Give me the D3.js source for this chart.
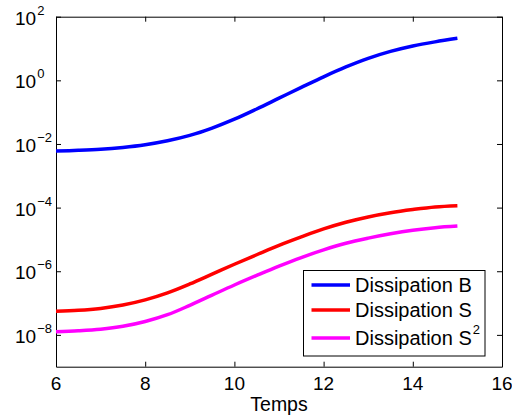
<!DOCTYPE html>
<html><head><meta charset="utf-8">
<script src="https://cdn.jsdelivr.net/npm/d3@7"></script>
<style>body{margin:0;background:#fff}svg{display:block}text{font-family:"Liberation Sans",Arial,Helvetica,sans-serif;fill:#000}</style>
</head><body><svg id="c" width="512" height="419"></svg>
<script>
const temps = [6,6.5,7,7.5,8,8.5,9,9.5,10,10.5,11,11.5,12,12.5,13,13.5,14,14.5,15];
const dissB = [6.0e-3,6.3e-3,6.8e-3,7.8e-3,9.5e-3,1.26e-2,1.86e-2,3.16e-2,6.0e-2,0.126,0.275,0.60,1.29,2.63,4.9,8.1,12.0,16.2,20.9];
const dissS = [5.5e-8,5.9e-8,6.8e-8,8.7e-8,1.26e-7,2.09e-7,3.98e-7,8.1e-7,1.66e-6,3.3e-6,6.5e-6,1.2e-5,2.14e-5,3.47e-5,5.1e-5,6.9e-5,8.7e-5,1.05e-4,1.15e-4];
const dissS2 = [1.26e-8,1.35e-8,1.51e-8,1.86e-8,2.63e-8,4.3e-8,8.5e-8,1.78e-7,3.7e-7,7.4e-7,1.45e-6,2.7e-6,4.7e-6,7.6e-6,1.1e-5,1.51e-5,1.95e-5,2.34e-5,2.63e-5];
const xTicks = [6,8,10,12,14,16];
const yTickExps = [2,0,-2,-4,-6,-8];
const seriesNames = ["Dissipation B","Dissipation S","Dissipation S"];
const seriesColors = ["#0000ff","#ff0000","#ff00ff"];
const xLabel = "Temps";

const L=56,R=502,T=16.7,B=366.7;
const svg = d3.select("#c");
const x = d3.scaleLinear().domain([6,16]).range([L,R]);
const y = d3.scaleLog().domain([1e-9,1e2]).range([B,T]);
const yTicks = yTickExps.map(e=>Math.pow(10,e));

// axes (ticks inside, all four sides)
svg.append("g").attr("transform",`translate(0,${B})`)
  .call(d3.axisBottom(x).tickValues(xTicks).tickSizeInner(-5).tickSizeOuter(0).tickFormat(""));
svg.append("g").attr("transform",`translate(0,${T})`)
  .call(d3.axisTop(x).tickValues(xTicks).tickSizeInner(-5).tickSizeOuter(0).tickFormat(""));
svg.append("g").attr("transform",`translate(${L},0)`)
  .call(d3.axisLeft(y).tickValues(yTicks).tickSizeInner(-5).tickSizeOuter(0).tickFormat(""));
svg.append("g").attr("transform",`translate(${R},0)`)
  .call(d3.axisRight(y).tickValues(yTicks).tickSizeInner(-5).tickSizeOuter(0).tickFormat(""));
svg.selectAll(".domain").attr("stroke","#000").attr("stroke-width",1);
svg.selectAll(".tick line").attr("stroke","#000").attr("stroke-width",1);

// x tick labels
svg.append("g").selectAll("text").data(xTicks).join("text")
  .attr("x",d=>x(d)).attr("y",390).attr("text-anchor","middle")
  .attr("font-size",19).text(d=>d);
svg.append("text").attr("x",x(11)).attr("y",411).attr("text-anchor","middle")
  .attr("font-size",19.5).text(xLabel);

// y tick labels 10^n
const yl = svg.append("g").selectAll("text").data(yTickExps).join("text")
  .attr("x",15).attr("y",e=>y(Math.pow(10,e))+8).attr("font-size",19);
yl.append("tspan").text("10");
yl.append("tspan").attr("font-size",13).attr("dy",-10).attr("dx",1)
  .text(e=>e<0?"\u2212"+(-e):String(e));

// lines
const line = d3.line().x((d,i)=>x(temps[i])).y(d=>y(d)).curve(d3.curveCatmullRom);
[dissB,dissS,dissS2].forEach((s,k)=>{
  svg.append("path").attr("d",line(s)).attr("fill","none")
    .attr("stroke",seriesColors[k]).attr("stroke-width",3.5).attr("stroke-linejoin","round");
});

// legend
const lg = svg.append("g");
lg.append("rect").attr("x",303.5).attr("y",270.5).attr("width",181.5).attr("height",85.5)
  .attr("fill","#fff").attr("stroke","#000").attr("stroke-width",1);
const rowsY=[285,310,338];
seriesNames.forEach((n,k)=>{
  lg.append("line").attr("x1",311.5).attr("x2",350).attr("y1",rowsY[k]).attr("y2",rowsY[k])
    .attr("stroke",seriesColors[k]).attr("stroke-width",3.5);
  const t = lg.append("text").attr("x",355).attr("y",rowsY[k]+7).attr("font-size",20).text(n);
  if(k===2) t.append("tspan").attr("font-size",13).attr("dy",-11).attr("dx",1).text("2");
});
</script></body></html>
